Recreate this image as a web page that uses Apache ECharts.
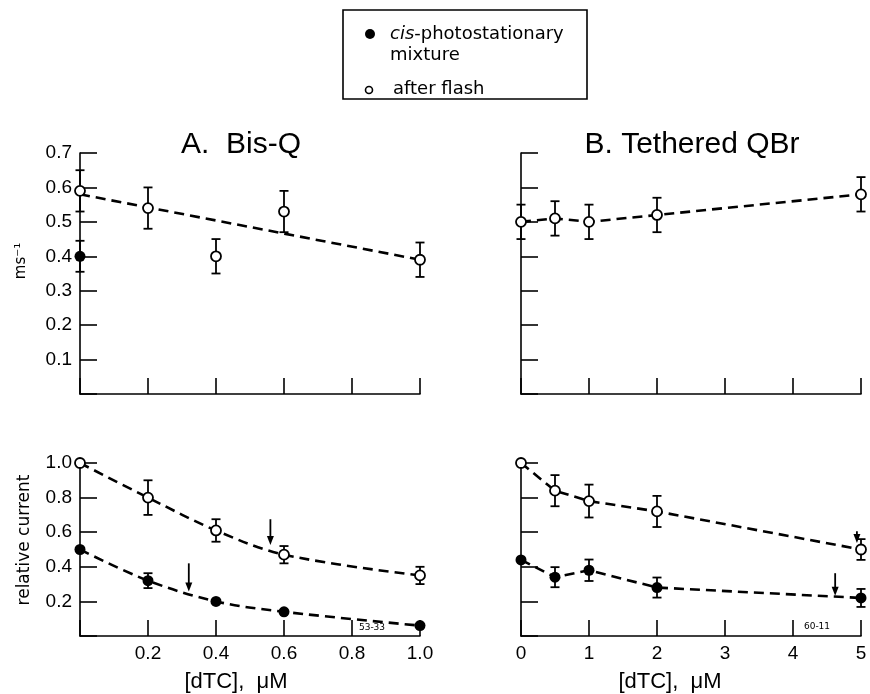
<!DOCTYPE html>
<html><head><meta charset="utf-8">
<script src="https://cdn.jsdelivr.net/npm/echarts@6/dist/echarts.min.js"></script>
<style>html,body{margin:0;padding:0;background:#fff}#c{width:870px;height:694px}</style>
</head><body><div id="c"></div>
<script>
// ---- Panel A (Bis-Q), rate constant (ms^-1) ----
const rateA_x = [0, 0.2, 0.4, 0.6, 1.0];
const rateA_flash = [0.59, 0.54, 0.40, 0.53, 0.39];
const rateA_flashErr = [0.06, 0.06, 0.05, 0.06, 0.05];
const rateA_cis_x = [0];
const rateA_cis = [0.40];
const rateA_cisErr = [0.045];
const rateA_fit_x = [0, 1.0];
const rateA_fit = [0.58, 0.39];
// ---- Panel B (Tethered QBr), rate constant ----
const rateB_x = [0, 0.5, 1, 2, 5];
const rateB_flash = [0.50, 0.51, 0.50, 0.52, 0.58];
const rateB_flashErr = [0.05, 0.05, 0.05, 0.05, 0.05];
// ---- Panel A, relative current ----
const curA_x = [0, 0.2, 0.4, 0.6, 1.0];
const curA_flash = [1.0, 0.80, 0.61, 0.47, 0.35];
const curA_flashErr = [0, 0.10, 0.065, 0.05, 0.05];
const curA_cis = [0.50, 0.32, 0.20, 0.14, 0.06];
const curA_cisErr = [0, 0.043, 0, 0, 0];
// ---- Panel B, relative current ----
const curB_x = [0, 0.5, 1, 2, 5];
const curB_flash = [1.0, 0.84, 0.78, 0.72, 0.50];
const curB_flashErr = [0, 0.09, 0.095, 0.09, 0.06];
const curB_cis = [0.44, 0.34, 0.38, 0.28, 0.22];
const curB_cisErr = [0, 0.058, 0.062, 0.058, 0.052];
// ---- arrows (x, start value, tip value) ----
const arrowsA_x = [0.56, 0.32];
const arrowsA_from = [0.675, 0.42];
const arrowsA_to = [0.526, 0.257];
const arrowsB_x = [4.94, 4.62];
const arrowsB_from = [0.605, 0.363];
const arrowsB_to = [0.537, 0.232];
// ---- tick labels ----
const rateYLabels = ['', '0.1', '0.2', '0.3', '0.4', '0.5', '0.6', '0.7'];
const curYLabels = ['', '0.2', '0.4', '0.6', '0.8', '1.0'];
const curAXLabels = ['', '0.2', '0.4', '0.6', '0.8', '1.0'];
const curBXLabels = ['0', '1', '2', '3', '4', '5'];
// ---- texts ----
const titleA = 'A.  Bis-Q';
const titleB = 'B. Tethered QBr';
const xName = '[dTC],  \u03bcM';
const yNameRate = 'ms\u207b\u00b9';
const yNameCur = 'relative current';
const nameCis = 'cis-photostationary mixture';
const nameFlash = 'after flash';

const zip = (xs, ys) => xs.map((x, i) => [x, ys[i]]);
const K = '#000';
const tickFont = {fontFamily: 'Liberation Sans', fontSize: 19, color: K};

function xAxis(grid, max, interval, labels) {
  return {type: 'value', gridIndex: grid, min: 0, max: max, interval: interval,
    axisLine: {show: true, lineStyle: {color: K, width: 1.6}},
    axisTick: {show: true, inside: true, length: 16, lineStyle: {color: K, width: 1.6}},
    splitLine: {show: false},
    axisLabel: labels ? Object.assign({show: true, margin: 8,
      formatter: v => labels[Math.round(v / interval)] || ''}, tickFont) : {show: false}};
}
function yAxis(grid, max, interval, labels) {
  return {type: 'value', gridIndex: grid, min: 0, max: max, interval: interval,
    axisLine: {show: true, lineStyle: {color: K, width: 1.6}},
    axisTick: {show: true, inside: true, length: 17, lineStyle: {color: K, width: 1.6}},
    splitLine: {show: false},
    axisLabel: labels ? Object.assign({show: true, margin: 8,
      formatter: v => labels[Math.round(v / interval)] || ''}, tickFont) : {show: false}};
}
function errSeries(ax, xs, ys, es) {
  return {type: 'custom', xAxisIndex: ax, yAxisIndex: ax, clip: false, z: 3, silent: true,
    data: xs.map((x, i) => [x, ys[i], es[i]]).filter(d => d[2] > 0),
    renderItem(params, api) {
      const x = api.value(0), y = api.value(1), e = api.value(2);
      const t = api.coord([x, y + e]), b = api.coord([x, y - e]);
      const w = 4.5, st = {stroke: K, lineWidth: 1.8};
      return {type: 'group', children: [
        {type: 'line', shape: {x1: t[0], y1: t[1], x2: b[0], y2: b[1]}, style: st},
        {type: 'line', shape: {x1: t[0] - w, y1: t[1], x2: t[0] + w, y2: t[1]}, style: st},
        {type: 'line', shape: {x1: b[0] - w, y1: b[1], x2: b[0] + w, y2: b[1]}, style: st}]};
    }};
}
function arrowSeries(ax, xs, from, to) {
  return {type: 'custom', xAxisIndex: ax, yAxisIndex: ax, clip: false, z: 3, silent: true,
    data: xs.map((x, i) => [x, from[i], to[i]]),
    renderItem(params, api) {
      const s = api.coord([api.value(0), api.value(1)]);
      const e = api.coord([api.value(0), api.value(2)]);
      const h = 9, w = 3.5;
      return {type: 'group', children: [
        {type: 'line', shape: {x1: s[0], y1: s[1], x2: e[0], y2: e[1] - h + 1}, style: {stroke: K, lineWidth: 1.8}},
        {type: 'polygon', shape: {points: [[e[0] - w, e[1] - h], [e[0] + w, e[1] - h], [e[0], e[1]]]}, style: {fill: K}}]};
    }};
}
function lineSeries(ax, xs, ys, smooth, name) {
  return {type: 'line', name: name, xAxisIndex: ax, yAxisIndex: ax, data: zip(xs, ys), clip: false,
    showSymbol: false, symbol: 'none', smooth: smooth, z: 2, silent: true,
    lineStyle: {color: K, width: 2.6, type: [10, 6], opacity: 1}};
}
function dotSeries(ax, xs, ys, open, name) {
  return {type: 'scatter', name: name, xAxisIndex: ax, yAxisIndex: ax, data: zip(xs, ys), clip: false,
    symbol: 'circle', symbolSize: open ? 10 : 11, z: 5, silent: true,
    itemStyle: open ? {color: '#fff', borderColor: K, borderWidth: 1.8, opacity: 1}
                    : {color: K, borderColor: K, borderWidth: 0, opacity: 1}};
}

const chart = echarts.init(document.getElementById('c'), null, {renderer: 'canvas'});
const option = {
  animation: false,
  backgroundColor: '#fff',
  grid: [
    {left: 80, top: 153, width: 340, height: 241},
    {left: 521, top: 153, width: 340, height: 241},
    {left: 80, top: 463, width: 340, height: 173},
    {left: 521, top: 463, width: 340, height: 173}
  ],
  xAxis: [xAxis(0, 1.0, 0.2, null), xAxis(1, 5, 1, null), xAxis(2, 1.0, 0.2, curAXLabels), xAxis(3, 5, 1, curBXLabels)],
  yAxis: [yAxis(0, 0.7, 0.1, rateYLabels), yAxis(1, 0.7, 0.1, null), yAxis(2, 1.0, 0.2, curYLabels), yAxis(3, 1.0, 0.2, null)],
  series: [
    // A rate
    errSeries(0, rateA_x, rateA_flash, rateA_flashErr),
    errSeries(0, rateA_cis_x, rateA_cis, rateA_cisErr),
    lineSeries(0, rateA_fit_x, rateA_fit, false),
    dotSeries(0, rateA_x, rateA_flash, true, nameFlash),
    dotSeries(0, rateA_cis_x, rateA_cis, false, nameCis),
    // B rate
    errSeries(1, rateB_x, rateB_flash, rateB_flashErr),
    lineSeries(1, rateB_x, rateB_flash, false),
    dotSeries(1, rateB_x, rateB_flash, true, nameFlash),
    // A current
    errSeries(2, curA_x, curA_flash, curA_flashErr),
    errSeries(2, curA_x, curA_cis, curA_cisErr),
    lineSeries(2, curA_x, curA_flash, 0.35),
    lineSeries(2, curA_x, curA_cis, 0.35),
    arrowSeries(2, arrowsA_x, arrowsA_from, arrowsA_to),
    dotSeries(2, curA_x, curA_flash, true, nameFlash),
    dotSeries(2, curA_x, curA_cis, false, nameCis),
    // B current
    errSeries(3, curB_x, curB_flash, curB_flashErr),
    errSeries(3, curB_x, curB_cis, curB_cisErr),
    lineSeries(3, curB_x, curB_flash, false),
    lineSeries(3, curB_x, curB_cis, false),
    arrowSeries(3, arrowsB_x, arrowsB_from, arrowsB_to),
    dotSeries(3, curB_x, curB_flash, true, nameFlash),
    dotSeries(3, curB_x, curB_cis, false, nameCis)
  ],
  graphic: [
    // legend box
    {type: 'rect', shape: {x: 343, y: 10, width: 244, height: 89}, style: {fill: '#fff', stroke: K, lineWidth: 1.6}, z: 10},
    {type: 'circle', shape: {cx: 370, cy: 34, r: 5}, style: {fill: K}, z: 11},
    {type: 'text', x: 390, y: 34, z: 11, style: {
      text: '{i|cis}{n|-photostationary}', verticalAlign: 'middle', align: 'left',
      rich: {i: {fontFamily: 'DejaVu Sans', fontSize: 18, fontStyle: 'italic', fill: K},
             n: {fontFamily: 'DejaVu Sans', fontSize: 18, fill: K}}}},
    {type: 'text', x: 390, y: 55, z: 11, style: {text: 'mixture', fontFamily: 'DejaVu Sans', fontSize: 18, fill: K, verticalAlign: 'middle', align: 'left'}},
    {type: 'circle', shape: {cx: 369, cy: 90, r: 3.5}, style: {fill: '#fff', stroke: K, lineWidth: 1.6}, z: 11},
    {type: 'text', x: 393, y: 89, z: 11, style: {text: nameFlash, fontFamily: 'DejaVu Sans', fontSize: 18, fill: K, verticalAlign: 'middle', align: 'left'}},
    // titles
    {type: 'text', x: 241, y: 145, style: {text: titleA, fontFamily: 'Liberation Sans', fontSize: 30, fill: K, align: 'center', verticalAlign: 'middle'}},
    {type: 'text', x: 692, y: 145, style: {text: titleB, fontFamily: 'Liberation Sans', fontSize: 30, fill: K, align: 'center', verticalAlign: 'middle'}},
    // y axis names
    {type: 'text', x: 21, y: 261, rotation: Math.PI / 2, style: {text: yNameRate, fontFamily: 'DejaVu Sans', fontSize: 15, fill: K, align: 'center', verticalAlign: 'middle'}},
    {type: 'text', x: 25, y: 540, rotation: Math.PI / 2, style: {text: yNameCur, fontFamily: 'DejaVu Sans', fontSize: 17, fill: K, align: 'center', verticalAlign: 'middle'}},
    // x axis names
    {type: 'text', x: 236, y: 682, style: {text: xName, fontFamily: 'Liberation Sans', fontSize: 22, fill: K, align: 'center', verticalAlign: 'middle'}},
    {type: 'text', x: 670, y: 682, style: {text: xName, fontFamily: 'Liberation Sans', fontSize: 22, fill: K, align: 'center', verticalAlign: 'middle'}},
    // figure codes
    {type: 'text', x: 372, y: 628, style: {text: '53-33', fontFamily: 'DejaVu Sans', fontSize: 9, fill: K, align: 'center', verticalAlign: 'middle'}},
    {type: 'text', x: 817, y: 627, style: {text: '60-11', fontFamily: 'DejaVu Sans', fontSize: 9, fill: K, align: 'center', verticalAlign: 'middle'}}
  ]
};
chart.setOption(option);
</script>
</body></html>
